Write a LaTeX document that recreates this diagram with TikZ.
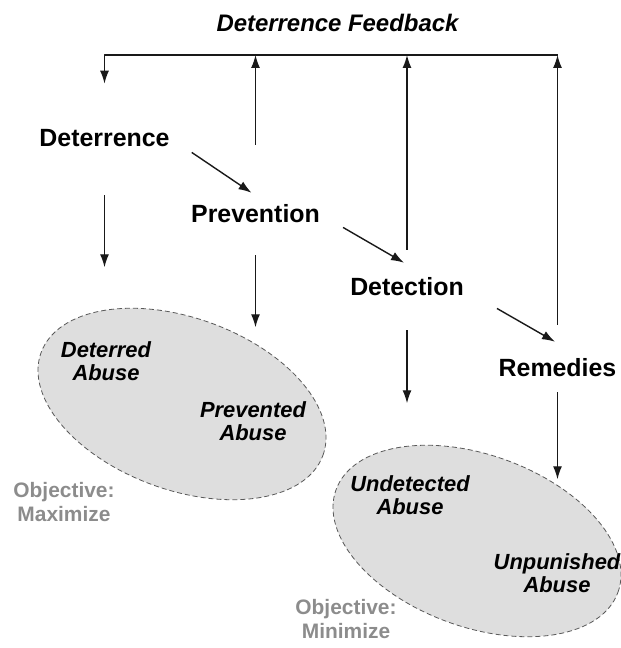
\documentclass[tikz,border=0pt]{standalone}
\usepackage{fontspec}
\setmainfont{Liberation Sans}
\usetikzlibrary{arrows.meta,shapes.geometric}
\definecolor{arrowcol}{rgb}{0.1,0.1,0.1}
\definecolor{zonegray}{rgb}{0.35,0.35,0.35}
\definecolor{zonefill}{rgb}{0.87,0.87,0.87}
\definecolor{objgray}{rgb}{0.55,0.55,0.55}
\begin{document}
\begin{tikzpicture}[x=1bp,y=1bp,>={Latex[length=13bp,width=9bp]},line join=bevel,
  stage/.style={inner sep=0pt,anchor=base,font=\fontsize{25}{30}\selectfont\bfseries},
  abuse/.style={inner sep=0pt,align=center,font=\fontsize{22}{23}\selectfont\bfseries\itshape},
  objective/.style={inner sep=0pt,align=center,text=objgray,font=\fontsize{21}{24}\selectfont\bfseries},
  zone/.style={ellipse,draw=zonegray,fill=zonefill,dash pattern=on 5bp off 3bp,line width=0.8bp,
    inner sep=0pt,rotate=-20,minimum width=300bp,minimum height=172bp},
  flow/.style={->,draw=arrowcol,line width=1.4bp}]
  \useasboundingbox (0,0) rectangle (621,648);
%%
  % Node: deterredzone
  \node[zone] (deterredzone) at (182,244) {};
  % Node: unpunishedzone
  \node[zone] (unpunishedzone) at (477,107) {};
  % Node: feedback
  \node[stage,font=\fontsize{24}{28}\selectfont\bfseries\itshape] (feedback) at (337.5,616) {Deterrence Feedback};
  % Node: deterrence
  \node[stage] (deterrence) at (104.5,501) {Deterrence};
  % Node: prevention
  \node[stage] (prevention) at (255.5,425) {Prevention};
  % Node: detection
  \node[stage] (detection) at (407,352) {Detection};
  % Node: remedies
  \node[stage] (remedies) at (557.5,271) {Remedies};
  % Node: deterred
  \node[abuse] (deterred) at (106,287) {Deterred\\Abuse};
  % Node: prevented
  \node[abuse] (prevented) at (253,227) {Prevented\\Abuse};
  % Node: undetected
  \node[abuse] (undetected) at (410,153) {Undetected\\Abuse};
  % Node: unpunished
  \node[abuse] (unpunished) at (557,75) {Unpunished\\Abuse};
  % Node: maximize
  \node[objective] (maximize) at (64,146) {Objective:\\Maximize};
  % Node: minimize
  \node[objective] (minimize) at (346,29) {Objective:\\Minimize};
  \coordinate (bus) at (0,593);
%
  % Edge: remedies -> deterrence (feedback line)
  \draw[flow,shorten >=46bp] (remedies.north |- bus) -- (deterrence.north |- bus) -- (deterrence.north);
  % Edge: prevention -> feedback
  \draw[flow,shorten <=60bp] (prevention.north) -- (prevention.north |- bus);
  % Edge: detection -> feedback
  \draw[flow,shorten <=28bp] (detection.north) -- (detection.north |- bus);
  % Edge: remedies -> feedback
  \draw[flow,shorten <=34bp] (remedies.north) -- (remedies.north |- bus);
  % Edge: deterrence -> prevention
  \draw[flow] ([shift={(22,-5)}]deterrence.south east) -- ([shift={(-4,12)}]prevention.north);
  % Edge: prevention -> detection
  \draw[flow] ([shift={(23,-4)}]prevention.south east) -- ([shift={(-3,15)}]detection.north);
  % Edge: detection -> remedies
  \draw[flow] ([shift={(33,-12)}]detection.south east) -- ([shift={(-2.5,17)}]remedies.north);
  % Edge: deterrence -> deterred
  \draw[flow,shorten <=48bp,shorten >=74bp] (deterrence.south) -- (deterrence.south |- deterred.north);
  % Edge: prevention -> prevented
  \draw[flow,shorten <=32bp,shorten >=74bp] (prevention.south) -- (prevention.south |- prevented.north);
  % Edge: detection -> undetected
  \draw[flow,shorten <=34bp,shorten >=72bp] (detection.south) -- (detection.south |- undetected.north);
  % Edge: remedies -> unpunished
  \draw[flow,shorten <=15bp,shorten >=74bp] (remedies.south) -- (remedies.south |- unpunished.north);
%
\end{tikzpicture}
\end{document}
